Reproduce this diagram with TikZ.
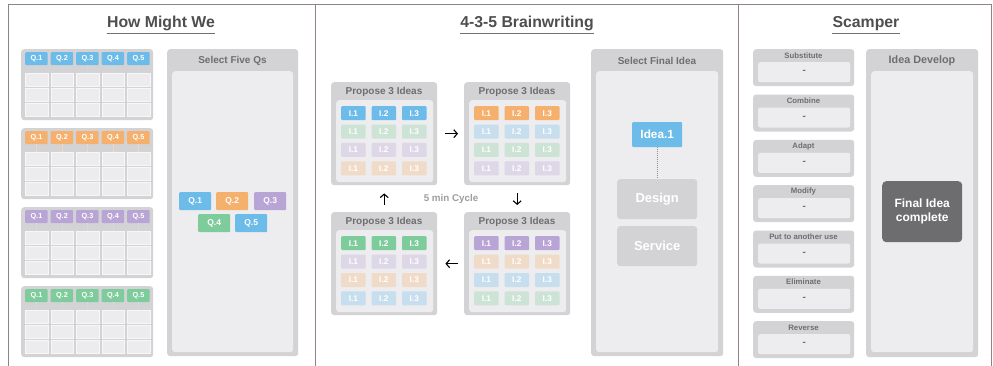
\documentclass[tikz,border=0pt]{standalone}
\usepackage{fontspec}
\setmainfont{Liberation Sans}
\usetikzlibrary{arrows.meta}
\definecolor{cardgray}{HTML}{D3D3D5}
\definecolor{innergray}{HTML}{EDEDEF}
\definecolor{cellgray}{HTML}{ECECEE}
\definecolor{qblue}{HTML}{6CBBE8}
\definecolor{qorange}{HTML}{F6B06D}
\definecolor{qpurple}{HTML}{B9A5D5}
\definecolor{qgreen}{HTML}{7ECB9B}
\definecolor{framec}{HTML}{8E8486}
\definecolor{titlec}{HTML}{4E4E50}
\definecolor{headc}{HTML}{6E6E70}
\definecolor{darkbox}{HTML}{6D6D6F}
\newcommand\myfs[1]{\fontsize{#1}{#1}\selectfont}
\tikzset{
  card/.style={fill=cardgray, rounded corners=3pt, inner sep=0pt, anchor=north west},
  inner/.style={fill=innergray, rounded corners=3pt, inner sep=0pt, anchor=north west},
  cellbox/.style={fill=cellgray, draw=white!60!cellgray, line width=0.4pt, inner sep=0pt, anchor=north west, minimum width=22.5pt, minimum height=13pt},
  qtag/.style={rounded corners=1pt, inner sep=0pt, anchor=north west, text=white, font=\bfseries\myfs{7.3}},
  itag/.style={rounded corners=1pt, inner sep=0pt, anchor=north west, text=white, font=\bfseries\myfs{8.3}, minimum width=24.5pt, minimum height=14pt},
  title/.style={anchor=base, inner sep=0pt, text=titlec, font=\bfseries\myfs{15.8}},
  uline/.style={draw=titlec!80!white, line width=0.9pt},
  head/.style={inner sep=0pt, text=headc, font=\bfseries\myfs{10}},
  shead/.style={inner sep=0pt, text=headc, font=\bfseries\myfs{7.8}},
  framel/.style={draw=framec, line width=0.9pt},
  tick/.style={line width=0.6pt, dash pattern=on 1.2pt off 1pt},
  cyc/.style={line width=1.1pt, -{Straight Barb[length=3.5pt,width=8pt,line width=1.1pt]}},
  gbox/.style={fill=cardgray, rounded corners=3pt, inner sep=0pt, anchor=north west, text=white, font=\bfseries\myfs{13}, minimum width=80pt, minimum height=40pt},
}
\begin{document}
\begin{tikzpicture}[x=1pt,y=-1pt]
\useasboundingbox (0,0) rectangle (993,366);
\fill[white] (0,0) rectangle (993,366);
% frame
\draw[framel] (8,366) -- (8,4) -- (991,4) -- (991,366);
\draw[framel] (315,4) -- (315,366);
\draw[framel] (738,4) -- (738,366);
% titles
\node[title] (t1) at (161,28) {How Might We};
\draw[uline] ([yshift=-5pt]t1.base west) -- ([yshift=-5pt]t1.base east);
\node[title] (t2) at (527,28) {4-3-5 Brainwriting};
\draw[uline] ([yshift=-5pt]t2.base west) -- ([yshift=-5pt]t2.base east);
\node[title] (t3) at (866,28) {Scamper};
\draw[uline] ([yshift=-5pt]t3.base west) -- ([yshift=-5pt]t3.base east);

% ---------- How Might We cards
\foreach \c [count=\k from 0] in {qblue,qorange,qpurple,qgreen} {
  \pgfmathsetmacro\yy{49+79*\k}
  \node[card, minimum width=132pt, minimum height=71pt] (hc\k) at (21,\yy) {};
  \foreach \i in {1,...,5} {
    \pgfmathsetmacro\xx{25+25.5*(\i-1)}
    \node[qtag, fill=\c, minimum width=22.5pt, minimum height=13pt] (q\k\i) at (\xx,\yy+3) {Q.\i};
    \foreach \r in {1,2,3} {
      \pgfmathsetmacro\cy{\yy+24+15*(\r-1)}
      \node[cellbox] (c\k\i\r) at (\xx,\cy) {};
    }
    \draw[tick, draw=\c!45!white] (q\k\i.south) -- (c\k\i1.north);
  }
}
% Select Five Qs
\node[card, minimum width=131pt, minimum height=307pt] (sel) at (167,49) {};
\node[inner, minimum width=121pt, minimum height=281pt] (seli) at (172,71) {};
\node[head] (selh) at (232.5,60.5) {Select Five Qs};
\node[qtag, fill=qblue, minimum width=32pt, minimum height=18pt, font=\bfseries\myfs{8.5}] (s1) at (179,192) {Q.1};
\node[qtag, fill=qorange, minimum width=32pt, minimum height=18pt, font=\bfseries\myfs{8.5}] (s2) at (216,192) {Q.2};
\node[qtag, fill=qpurple, minimum width=32pt, minimum height=18pt, font=\bfseries\myfs{8.5}] (s3) at (254,192) {Q.3};
\node[qtag, fill=qgreen, minimum width=32pt, minimum height=18pt, font=\bfseries\myfs{8.5}] (s4) at (198,214) {Q.4};
\node[qtag, fill=qblue, minimum width=32pt, minimum height=18pt, font=\bfseries\myfs{8.5}] (s5) at (235,214) {Q.5};

% ---------- Brainwriting boxes
\foreach \nm/\bx/\by/\ca/\cb/\cc/\cd in {tl/331/82/qblue/qgreen/qpurple/qorange, tr/464/82/qorange/qblue/qgreen/qpurple, br/464/212/qpurple/qorange/qblue/qgreen, bl/331/212/qgreen/qpurple/qorange/qblue} {
  \node[card, minimum width=106pt, minimum height=103pt] (\nm) at (\bx,\by) {};
  \pgfmathsetmacro\hx{\bx+53}
  \pgfmathsetmacro\hy{\by+9.5}
  \pgfmathsetmacro\ix{\bx+5}
  \pgfmathsetmacro\iy{\by+18}
  \node[head] (\nm h) at (\hx,\hy) {Propose 3 Ideas};
  \node[inner, minimum width=97pt, minimum height=82pt] (\nm i) at (\ix,\iy) {};
  \foreach \col [count=\r from 0] in {\ca,\cb,\cc,\cd} {
    \pgfmathtruncatemacro\pct{\r==0 ? 100 : 30}
    \foreach \j in {1,2,3} {
      \pgfmathsetmacro\tx{\bx+10+30.4*(\j-1)}
      \pgfmathsetmacro\ty{\by+24+18.4*\r}
      \node[itag, fill=\col!\pct!innergray] (\nm\r\j) at (\tx,\ty) {I.\j};
    }
  }
}
\draw[cyc, shorten <=8pt, shorten >=6pt] (tl.east) -- (tr.west);
\draw[cyc, shorten <=8pt, shorten >=7pt] (tr.south) -- (br.north);
\draw[cyc, shorten <=6pt, shorten >=8pt] (br.west) -- (bl.east);
\draw[cyc, shorten <=7pt, shorten >=8pt] (bl.north) -- (tl.south);
\node[inner sep=0pt, text=black!38, font=\bfseries\myfs{9.8}] (cyc) at (451,198.5) {5 min Cycle};

% Select Final Idea
\node[card, minimum width=132pt, minimum height=307pt] (fin) at (591,49) {};
\node[inner, minimum width=122pt, minimum height=281pt] (fini) at (596,71) {};
\node[head] (finh) at (657,61) {Select Final Idea};
\node[qtag, fill=qblue, minimum width=50pt, minimum height=25pt, font=\bfseries\myfs{11.8}] (idea) at (632,122) {Idea.1};
\node[gbox] (design) at (617,179) {Design};
\node[gbox] (service) at (617,226) {Service};
\draw[draw=black!45, line width=0.7pt, dash pattern=on 1pt off 1pt] (idea.south) -- (design.north);

% ---------- Scamper
\foreach \lab [count=\k from 0] in {Substitute,Combine,Adapt,Modify,Put to another use,Eliminate,Reverse} {
  \pgfmathsetmacro\yy{49+45.33*\k}
  \pgfmathsetmacro\ly{\yy+6.5}
  \pgfmathsetmacro\iy{\yy+13}
  \node[card, minimum width=101pt, minimum height=37pt] (sc\k) at (753,\yy) {};
  \node[shead] (sc\k h) at (803.5,\ly) {\lab};
  \node[inner, rounded corners=2pt, minimum width=92pt, minimum height=20pt, text=headc, font=\bfseries\myfs{10}] (sc\k i) at (758,\iy) {-};
}
\node[card, minimum width=112pt, minimum height=308pt] (dev) at (866,49) {};
\node[inner, minimum width=102pt, minimum height=281pt] (devi) at (871,71) {};
\node[head, font=\bfseries\myfs{10.8}] (devh) at (922,61) {Idea Develop};
\node[fill=darkbox, rounded corners=4pt, inner sep=0pt, anchor=north west, minimum width=80pt, minimum height=61pt, text=white, align=center, font=\bfseries\myfs{12}] (final) at (882,181) {Final Idea\\[2pt]complete};
\end{tikzpicture}
\end{document}
